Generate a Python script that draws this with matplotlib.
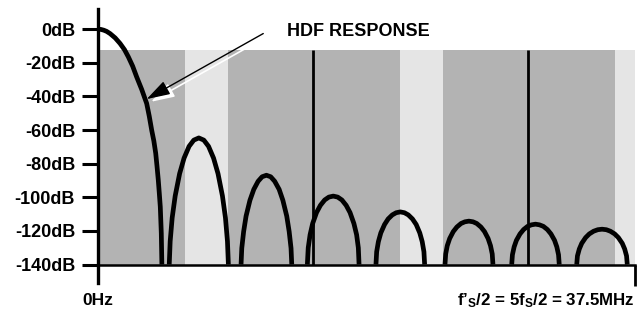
"""
HDF response plot (magnitude vs frequency) with shaded bands.
"""
import matplotlib
matplotlib.use('Agg')
import matplotlib.pyplot as plt

# data (MHz, dB)
main_f = [0, 0.2, 0.4, 0.6, 0.84, 1.2, 1.54, 1.85, 2.12, 2.42, 2.70, 3.05, 3.40,
          3.58, 3.75, 3.90, 4.03, 4.12, 4.21, 4.28, 4.35, 4.42, 4.46]
main_db = [0, -0.15, -0.6, -1.3, -2.6, -5.2, -8.5, -12.2, -16.5, -22.0, -28.4, -35.8, -44.2,
           -51.8, -60.1, -66.5, -73.8, -81.5, -89.8, -97.5, -105.7, -121.4, -140]

lobe1_f = [4.975, 5.04, 5.18, 5.39, 5.70, 6.01, 6.36, 6.69, 7.04,
           7.39, 7.72, 8.07, 8.38, 8.69, 8.90, 9.04, 9.105]
lobe1_db = [-140, -126.2, -112.2, -99.2, -85.9, -76.7, -69.7, -66.0, -64.7,
            -66.0, -69.7, -76.7, -85.9, -99.2, -112.2, -126.2, -140]
lobe2_f = [9.99, 10.04, 10.17, 10.34, 10.61, 10.88, 11.18, 11.46, 11.76,
           12.06, 12.34, 12.65, 12.91, 13.18, 13.35, 13.48, 13.53]
lobe2_db = [-140, -130.3, -120.4, -111.2, -101.8, -95.3, -90.5, -87.8, -86.9,
            -87.8, -90.5, -95.3, -101.8, -111.2, -120.4, -130.3, -140]
lobe3_f = [14.62, 14.68, 14.81, 14.99, 15.26, 15.53, 15.83, 16.12, 16.43,
           16.74, 17.03, 17.33, 17.60, 17.87, 18.06, 18.18, 18.23]
lobe3_db = [-140, -130.1, -122.3, -115.6, -109.1, -104.8, -101.6, -99.9, -99.3,
            -99.9, -101.6, -104.8, -109.1, -115.6, -122.3, -130.1, -140]
lobe4_f = [19.41, 19.46, 19.58, 19.75, 20.01, 20.26, 20.55, 20.82, 21.11,
           21.40, 21.67, 21.96, 22.22, 22.47, 22.64, 22.76, 22.81]
lobe4_db = [-140, -132.4, -126.4, -121.2, -116.2, -112.9, -110.5, -109.2, -108.7,
            -109.2, -110.5, -112.9, -116.2, -121.2, -126.4, -132.4, -140]
lobe5_f = [24.23, 24.28, 24.39, 24.56, 24.81, 25.06, 25.35, 25.62, 25.90,
           26.19, 26.45, 26.74, 26.99, 27.24, 27.41, 27.53, 27.58]
lobe5_db = [-140, -133.7, -128.8, -124.5, -120.4, -117.7, -115.6, -114.6, -114.2,
            -114.6, -115.6, -117.7, -120.4, -124.5, -128.8, -133.7, -140]
lobe6_f = [28.89, 28.94, 29.06, 29.22, 29.47, 29.72, 30.00, 30.27, 30.55,
           30.83, 31.10, 31.38, 31.63, 31.88, 32.04, 32.16, 32.21]
lobe6_db = [-140, -134.2, -129.5, -125.6, -121.8, -119.2, -117.3, -116.4, -116.0,
            -116.4, -117.3, -119.2, -121.8, -125.6, -129.5, -134.2, -140]
lobe7_f = [33.43, 33.48, 33.61, 33.78, 34.05, 34.31, 34.61, 34.90, 35.20,
           35.50, 35.78, 36.08, 36.34, 36.61, 36.78, 36.91, 36.96]
lobe7_db = [-140, -134.9, -130.8, -127.4, -124.0, -121.8, -120.2, -119.3, -119.0,
            -119.3, -120.2, -121.8, -124.0, -127.4, -130.8, -134.9, -140]

band_start = [0, 6.07, 9.08, 21.1, 24.1, 36.1]
band_end = [6.07, 9.08, 21.1, 24.1, 36.1, 37.6]
band_dark = [True, False, True, False, True, False]
band_top = -12.5
marker_f = [15, 30]

db_ticks = [0, -20, -40, -60, -80, -100, -120, -140]
db_labels = ['0dB', '-20dB', '-40dB', '-60dB', '-80dB', '-100dB', '-120dB', '-140dB']

plt.rcParams['font.family'] = ['Liberation Sans', 'DejaVu Sans']
plt.rcParams['font.weight'] = 'bold'
plt.rcParams['mathtext.fontset'] = 'custom'
plt.rcParams['mathtext.rm'] = 'Liberation Sans:bold'
plt.rcParams['mathtext.it'] = 'Liberation Sans:bold'
plt.rcParams['mathtext.bf'] = 'Liberation Sans:bold'

fig = plt.figure(figsize=(6.4, 3.09), dpi=100)
ax = fig.add_axes([98 / 640, 26 / 309, 537 / 640, 274 / 309])
ax.set_xlim(0, 37.5)
ax.set_ylim(-151, 12)

# shaded bands
for s, e, dark in zip(band_start, band_end, band_dark):
    ax.bar(s, band_top + 140, bottom=-140, width=e - s, align='edge',
           color='#b3b3b3' if dark else '#e5e5e5', linewidth=0, zorder=1)
ax.vlines(marker_f, -140, band_top, color='black', lw=2, zorder=2)

# response
for f, d in [(main_f, main_db), (lobe1_f, lobe1_db), (lobe2_f, lobe2_db),
             (lobe3_f, lobe3_db), (lobe4_f, lobe4_db), (lobe5_f, lobe5_db),
             (lobe6_f, lobe6_db), (lobe7_f, lobe7_db)]:
    ax.plot(f, d, color='black', lw=3.4, solid_capstyle='butt',
            solid_joinstyle='round', zorder=3, clip_on=False)

# axes styling
for s in ['top', 'right']:
    ax.spines[s].set_visible(False)
ax.spines['left'].set_linewidth(2.4)
ax.spines['bottom'].set_position(('data', -140))
ax.spines['bottom'].set_linewidth(1.8)
ax.spines['bottom'].set_zorder(4)

ax.set_yticks(db_ticks)
ax.set_yticklabels(db_labels)
ax.tick_params(axis='y', length=11.5, width=2.2, pad=5, labelsize=13)
ax.set_xticks([37.5])
ax.set_xticklabels([''])
ax.tick_params(axis='x', length=15, width=2)

ax.text(0, -164, '0Hz', ha='center', va='baseline', fontsize=12.5, clip_on=False)
ax.text(37.5, -164, r'f’$_\mathrm{S}$/2 = 5f$_\mathrm{S}$/2 = 37.5MHz',
        ha='right', va='baseline', fontsize=12.2, clip_on=False)

# annotation arrow with white shadow
ax.annotate('', xy=(3.70, -43.2), xytext=(11.84, -4.1),
            arrowprops=dict(arrowstyle='-|>,head_length=0.9,head_width=0.28',
                            color='white', lw=1.2, shrinkA=0, shrinkB=0,
                            mutation_scale=16), zorder=5)
ax.annotate('', xy=(3.40, -41.6), xytext=(11.54, -2.6),
            arrowprops=dict(arrowstyle='-|>,head_length=0.9,head_width=0.28',
                            color='black', lw=1, shrinkA=0, shrinkB=0,
                            mutation_scale=16), zorder=6)
ax.text(13.2, -1.2, 'HDF RESPONSE', ha='left', va='center', fontsize=13)

fig.savefig('out.png', dpi=100)
